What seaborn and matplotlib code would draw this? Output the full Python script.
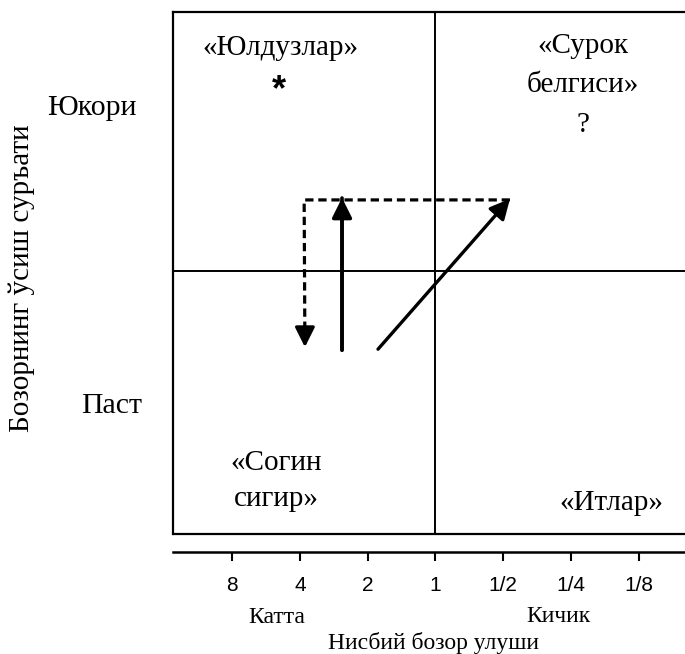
import matplotlib
matplotlib.use("Agg")
import matplotlib.pyplot as plt
import seaborn as sns
import pandas as pd

# ---- data ----
share_ticks = [8, 4, 2, 1, 0.5, 0.25, 0.125]
share_labels = ["8", "4", "2", "1", "1/2", "1/4", "1/8"]
share_limits = [14.64, 0.0741]
growth_limits = [0.0, 1.0]
share_split = 1.0
growth_split = 0.504

# dashed path (relative share, growth)
dash_share = [0.467, 3.83, 3.80]
dash_growth = [0.640, 0.640, 0.358]
# solid vertical arrow
vert_share = [2.60, 2.60]
vert_growth = [0.352, 0.644]
# diagonal arrow
diag_share = [1.80, 0.467]
diag_growth = [0.354, 0.642]

quadrant_labels = ["«Юлдузлар»", "*", "«Сурок", "белгиси»", "?",
                   "«Согин", "сигир»", "«Итлар»"]
growth_labels = ["Юкори", "Паст"]
share_side_labels = ["Катта", "Кичик"]
x_title = "Нисбий бозор улуши"
y_title = "Бозорнинг ўсиш суръати"

# ---- style ----
sns.set_theme(style="white")
plt.rcParams["font.family"] = ["Liberation Serif", "DejaVu Serif"]
plt.rcParams["axes.edgecolor"] = "black"

W, H = 685, 654
fig = plt.figure(figsize=(W / 100, H / 100), dpi=100)
ax = fig.add_axes([173 / W, 1 - 534 / H, (690 - 173) / W, 522 / H])
ax.set_xscale("log", base=2)
ax.set_xlim(*share_limits)
ax.set_ylim(*growth_limits)

# frame
for s in ["top", "left"]:
    ax.spines[s].set_linewidth(1.6)
    ax.spines[s].set_color("black")
ax.spines["right"].set_visible(False)
ax.spines["bottom"].set_position(("outward", 13))
ax.spines["bottom"].set_linewidth(1.8)
ax.spines["bottom"].set_color("black")
ax.axhline(growth_limits[0], color="black", lw=1.6, clip_on=False)
ax.axvline(share_split, color="black", lw=1.4)
ax.axhline(growth_split, color="black", lw=1.4)

# ticks
ax.set_xticks(share_ticks)
ax.set_xticklabels(share_labels, family=["Liberation Sans", "DejaVu Sans"],
                   fontsize=15)
ax.xaxis.set_minor_locator(matplotlib.ticker.NullLocator())
ax.set_yticks([])
ax.tick_params(axis="x", direction="out", length=6.5, width=1.5, pad=10.5,
               colors="black", bottom=True)

# dashed path
df_dash = pd.DataFrame({"share": dash_share, "growth": dash_growth})
sns.lineplot(data=df_dash, x="share", y="growth", sort=False, estimator=None,
             color="black", lw=2.3, dashes=False, ax=ax)
ax.lines[-1].set_dashes((2.6, 1.5))
head = "-|>,head_length=0.6,head_width=0.3"
ax.annotate("", xy=(dash_share[-1], dash_growth[-1]),
            xytext=(dash_share[-1], dash_growth[-1] + 0.04),
            arrowprops=dict(arrowstyle=head, color="black", lw=2.3,
                            mutation_scale=20, shrinkA=0, shrinkB=0))

# solid vertical
df_vert = pd.DataFrame({"share": vert_share, "growth": vert_growth})
sns.lineplot(data=df_vert, x="share", y="growth", sort=False, estimator=None,
             color="black", lw=2.6, ax=ax)
ax.annotate("", xy=(vert_share[1], vert_growth[1]),
            xytext=(vert_share[0], vert_growth[0]),
            arrowprops=dict(arrowstyle=head, color="black", lw=2.6,
                            mutation_scale=20, shrinkA=0, shrinkB=0))

# diagonal
ax.annotate("", xy=(diag_share[1], diag_growth[1]),
            xytext=(diag_share[0], diag_growth[0]),
            arrowprops=dict(arrowstyle=head, color="black", lw=2.4,
                            mutation_scale=20, shrinkA=0, shrinkB=0))
ax.set_xlabel("")
ax.set_ylabel("")


def ptext(px, py, s, size=21, ha="center", va="baseline", **kw):
    fig.text(px / W, 1 - py / H, s, fontsize=size, ha=ha, va=va, color="black", **kw)


# quadrant labels
ptext(280, 55, quadrant_labels[0])
ptext(279, 100, quadrant_labels[1], size=26,
      family=["Liberation Sans", "DejaVu Sans"], weight="bold")
ptext(583, 53, quadrant_labels[2])
ptext(583, 92, quadrant_labels[3])
ptext(583, 132, quadrant_labels[4])
ptext(276, 470, quadrant_labels[5])
ptext(276, 506, quadrant_labels[6])
ptext(611, 510, quadrant_labels[7])

# growth level labels
ptext(92, 115, growth_labels[0], size=21.5)
ptext(112, 413, growth_labels[1], size=21.5)

# share labels
ptext(277, 623, share_side_labels[0], size=17)
ptext(558, 622, share_side_labels[1], size=17)
ptext(434, 649, x_title, size=17)

# y title
ptext(22, 278, y_title, size=21, va="center", rotation=90)

fig.savefig("out.png", dpi=100)
